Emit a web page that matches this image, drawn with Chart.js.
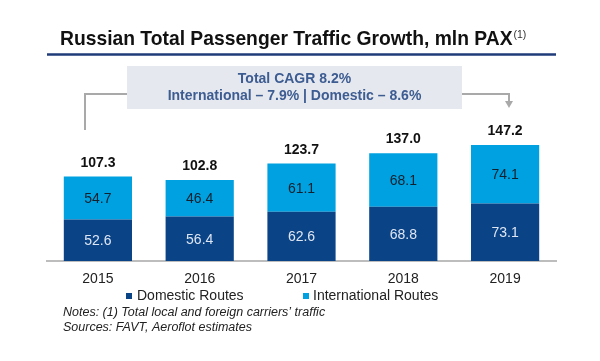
<!DOCTYPE html>
<html lang="en">
<head>
    <meta charset="UTF-8">
    <title>Russian Total Passenger Traffic Growth</title>
    <script src="https://cdn.jsdelivr.net/npm/chart.js"></script>
    <style>
        body { margin: 0; background: #fff; }
        canvas { display: block; }
    </style>
</head>
<body>
    <canvas id="paxChart" width="600" height="361"></canvas>

    <script>
        const years = ['2015', '2016', '2017', '2018', '2019'];
        const domestic = [52.6, 56.4, 62.6, 68.8, 73.1];
        const international = [54.7, 46.4, 61.1, 68.1, 74.1];
        const totals = [107.3, 102.8, 123.7, 137.0, 147.2];

        const FONT = '"Liberation Sans", Arial, sans-serif';
        const DOM_COLOR = '#0a4487';
        const INT_COLOR = '#00a1e0';

        // numbers inside the bars + totals above
        const barLabels = {
            id: 'barLabels',
            afterDatasetsDraw(chart) {
                const ctx = chart.ctx;
                ctx.save();
                ctx.textAlign = 'center';
                ctx.textBaseline = 'middle';
                ctx.font = '14px ' + FONT;
                chart.data.datasets.forEach((ds, i) => {
                    const meta = chart.getDatasetMeta(i);
                    ctx.fillStyle = i === 0 ? '#dfe6f3' : '#10202c';
                    meta.data.forEach((bar, j) => {
                        ctx.fillText(ds.data[j].toFixed(1), bar.x, (bar.y + bar.base) / 2 + 1);
                    });
                });
                const top = chart.getDatasetMeta(1);
                ctx.font = 'bold 14px ' + FONT;
                ctx.fillStyle = '#111';
                ctx.textBaseline = 'alphabetic';
                top.data.forEach((bar, j) => {
                    ctx.fillText(totals[j].toFixed(1), bar.x, bar.y - 10);
                });
                ctx.restore();
            }
        };

        // title, CAGR box, legend and notes
        const extras = {
            id: 'extras',
            afterDraw(chart) {
                const ctx = chart.ctx;
                ctx.save();

                ctx.fillStyle = '#111';
                ctx.font = 'bold 19.3px ' + FONT;
                ctx.textBaseline = 'alphabetic';
                const title = 'Russian Total Passenger Traffic Growth, mln PAX';
                ctx.fillText(title, 60, 45);
                const tw = ctx.measureText(title).width;
                ctx.font = '10.5px ' + FONT;
                ctx.fillStyle = '#333';
                ctx.fillText('(1)', 60 + tw + 1, 38);

                ctx.strokeStyle = '#1f3b78';
                ctx.lineWidth = 2.5;
                ctx.beginPath();
                ctx.moveTo(47, 54.5);
                ctx.lineTo(556, 54.5);
                ctx.stroke();

                // connectors
                ctx.strokeStyle = '#a9a9a9';
                ctx.lineWidth = 2;
                ctx.beginPath();
                ctx.moveTo(127, 94);
                ctx.lineTo(85, 94);
                ctx.lineTo(85, 130);
                ctx.moveTo(462, 94);
                ctx.lineTo(509, 94);
                ctx.lineTo(509, 102);
                ctx.stroke();
                ctx.fillStyle = '#a9a9a9';
                ctx.beginPath();
                ctx.moveTo(505, 101);
                ctx.lineTo(513, 101);
                ctx.lineTo(509, 108);
                ctx.closePath();
                ctx.fill();

                ctx.fillStyle = '#e5e8ee';
                ctx.fillRect(127, 66, 335, 43);
                ctx.fillStyle = '#3d5c92';
                ctx.font = 'bold 14px ' + FONT;
                ctx.textAlign = 'center';
                ctx.fillText('Total CAGR 8.2%', 294.5, 83);
                ctx.fillText('International \u2013 7.9% | Domestic \u2013 8.6%', 294.5, 100);

                // legend
                ctx.textAlign = 'left';
                ctx.font = '14px ' + FONT;
                ctx.fillStyle = DOM_COLOR;
                ctx.fillRect(126, 293, 6, 6);
                ctx.fillStyle = INT_COLOR;
                ctx.fillRect(303, 293, 6, 6);
                ctx.fillStyle = '#222';
                ctx.fillText('Domestic Routes', 137, 300);
                ctx.fillText('International Routes', 313, 300);

                ctx.font = 'italic 12.5px ' + FONT;
                ctx.fillText('Notes: (1) Total local and foreign carriers\u2019 traffic', 63, 316);
                ctx.fillText('Sources: FAVT, Aeroflot estimates', 63, 331);

                ctx.restore();
            }
        };

        new Chart(document.getElementById('paxChart'), {
            type: 'bar',
            data: {
                labels: years,
                datasets: [
                    { label: 'Domestic Routes', data: domestic, backgroundColor: DOM_COLOR },
                    { label: 'International Routes', data: international, backgroundColor: INT_COLOR }
                ]
            },
            options: {
                responsive: false,
                animation: false,
                layout: { padding: { left: 47, right: 44, top: 135, bottom: 0 } },
                datasets: { bar: { barPercentage: 0.67, categoryPercentage: 1, borderWidth: 0 } },
                plugins: { legend: { display: false }, tooltip: { enabled: false } },
                scales: {
                    x: {
                        stacked: true,
                        grid: { display: false, drawTicks: false },
                        border: { display: true, color: '#bdbdbd', width: 2 },
                        ticks: { color: '#222', font: { family: FONT, size: 14 }, padding: 10 },
                        afterFit: (s) => { s.height = 100; }
                    },
                    y: { stacked: true, display: false, min: 0, max: 160 }
                }
            },
            plugins: [barLabels, extras]
        });
    </script>
</body>
</html>
